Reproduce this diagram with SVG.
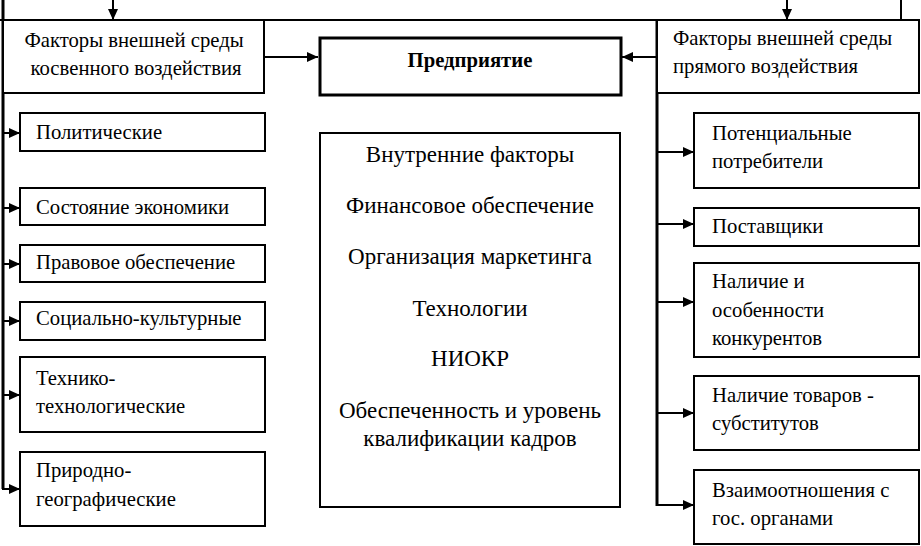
<svg xmlns="http://www.w3.org/2000/svg" width="921" height="546" viewBox="0 0 921 546">
<defs>
<style>
.box{fill:#fff;stroke:#000;stroke-width:2}
.thick{fill:#fff;stroke:#000;stroke-width:3}
.ln{fill:none;stroke:#000;stroke-width:2}
.bus{fill:none;stroke:#000;stroke-width:3}
text{font-family:"Liberation Serif","Times New Roman",serif;font-size:20.7px;fill:#000}
.c{text-anchor:middle}
.b{font-weight:bold}
.big{font-size:23px}
</style>
<marker id="ah" markerUnits="userSpaceOnUse" markerWidth="12" markerHeight="10" refX="11" refY="5" orient="auto">
<path d="M0,0 L11,5 L0,10 Z" fill="#000"/>
</marker>
</defs>
<rect width="921" height="546" fill="#fff"/>
<g id="connectors">
<line class="ln" x1="0" y1="20" x2="920" y2="20"/>
<line class="bus" x1="3" y1="0" x2="3" y2="489"/>
<line class="ln" x1="901" y1="0" x2="901" y2="20"/>
<line class="bus" x1="657" y1="20" x2="657" y2="506"/>
<line class="ln" x1="113" y1="0" x2="113" y2="20" marker-end="url(#ah)"/>
<line class="ln" x1="787" y1="0" x2="787" y2="20" marker-end="url(#ah)"/>
<line class="ln" x1="264" y1="57" x2="318" y2="57" marker-end="url(#ah)"/>
<line class="ln" x1="657" y1="57" x2="622" y2="57" marker-end="url(#ah)"/>
<line class="ln" x1="2" y1="133" x2="20" y2="133" marker-end="url(#ah)"/>
<line class="ln" x1="2" y1="208" x2="20" y2="208" marker-end="url(#ah)"/>
<line class="ln" x1="2" y1="264" x2="20" y2="264" marker-end="url(#ah)"/>
<line class="ln" x1="2" y1="321" x2="20" y2="321" marker-end="url(#ah)"/>
<line class="ln" x1="2" y1="395" x2="20" y2="395" marker-end="url(#ah)"/>
<line class="ln" x1="2" y1="489" x2="20" y2="489" marker-end="url(#ah)"/>
<line class="ln" x1="656" y1="152" x2="694" y2="152" marker-end="url(#ah)"/>
<line class="ln" x1="656" y1="224" x2="694" y2="224" marker-end="url(#ah)"/>
<line class="ln" x1="656" y1="302" x2="694" y2="302" marker-end="url(#ah)"/>
<line class="ln" x1="656" y1="413" x2="694" y2="413" marker-end="url(#ah)"/>
<line class="ln" x1="656" y1="505" x2="694" y2="505" marker-end="url(#ah)"/>
</g>
<g id="indirect">
<rect class="box" x="3" y="20" width="261" height="73"/>
<text class="c" x="134" y="47">Факторы внешней среды</text>
<text class="c" x="136" y="75">косвенного воздействия</text>
</g>
<g id="enterprise">
<rect class="thick" x="320" y="38" width="301" height="57"/>
<text class="c b" x="470" y="67">Предприятие</text>
</g>
<g id="direct">
<rect class="box" x="657" y="20" width="262" height="73"/>
<text x="673" y="45">Факторы внешней среды</text>
<text x="673" y="73">прямого воздействия</text>
</g>
<g id="political">
<rect class="box" x="20" y="113" width="245" height="38"/>
<text x="36" y="139">Политические</text>
</g>
<g id="economy">
<rect class="box" x="20" y="188" width="245" height="37"/>
<text x="36" y="214">Состояние экономики</text>
</g>
<g id="legal">
<rect class="box" x="20" y="245" width="245" height="37"/>
<text x="36" y="269">Правовое обеспечение</text>
</g>
<g id="social">
<rect class="box" x="20" y="302" width="245" height="38"/>
<text x="36" y="325">Социально-культурные</text>
</g>
<g id="tech">
<rect class="box" x="20" y="357" width="245" height="75"/>
<text x="36" y="385">Технико-</text>
<text x="36" y="413">технологические</text>
</g>
<g id="nature">
<rect class="box" x="20" y="452" width="245" height="74"/>
<text x="36" y="477">Природно-</text>
<text x="36" y="506">географические</text>
</g>
<g id="internal">
<rect class="box" x="320" y="133" width="300" height="374"/>
<text class="c big" x="470" y="162">Внутренние факторы</text>
<text class="c big" x="470" y="213">Финансовое обеспечение</text>
<text class="c big" x="470" y="264">Организация маркетинга</text>
<text class="c big" x="470" y="316">Технологии</text>
<text class="c big" x="470" y="366">НИОКР</text>
<text class="c big" x="470" y="418">Обеспеченность и уровень</text>
<text class="c big" x="470" y="446">квалификации кадров</text>
</g>
<g id="consumers">
<rect class="box" x="694" y="113" width="225" height="75"/>
<text x="712" y="140">Потенциальные</text>
<text x="712" y="168">потребители</text>
</g>
<g id="suppliers">
<rect class="box" x="694" y="208" width="225" height="38"/>
<text x="712" y="233">Поставщики</text>
</g>
<g id="competitors">
<rect class="box" x="694" y="263" width="225" height="94"/>
<text x="712" y="288">Наличие и</text>
<text x="712" y="317">особенности</text>
<text x="712" y="345">конкурентов</text>
</g>
<g id="substitutes">
<rect class="box" x="694" y="376" width="225" height="74"/>
<text x="712" y="402">Наличие товаров -</text>
<text x="712" y="430">субститутов</text>
</g>
<g id="government">
<rect class="box" x="694" y="470" width="225" height="74"/>
<text x="712" y="497">Взаимоотношения с</text>
<text x="712" y="525">гос. органами</text>
</g>
</svg>
